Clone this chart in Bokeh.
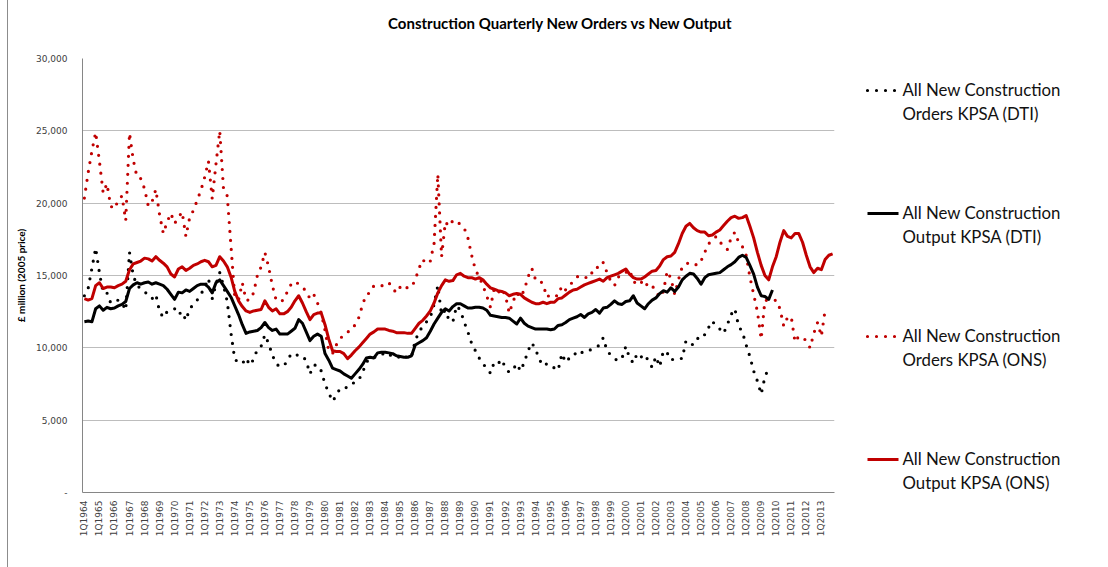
import numpy as np
from bokeh.plotting import figure
from bokeh.models import Range1d, FixedTicker, NumeralTickFormatter, Spacer
from bokeh.layouts import row, column
from bokeh.embed import file_html
from bokeh.resources import INLINE
from bokeh.core.properties import value

years = list(range(1964, 2014))
quarters = [f"{q}Q{y}" for y in years for q in range(1, 5)]

dti_orders = [
    13600, 14100, 15500, 16900, 15200, 13800, 13800, 13100, 13200, 13300, 13100, 12600,
    16600, 15000, 14300, 14100, 13900, 13600, 13400, 13700, 12500, 12100, 12500, 12600,
    12700, 12300, 12500, 11900, 12700, 13000, 13300, 13700, 14200, 14800, 13400, 14400,
    15200, 14300, 13200, 11000, 9200, 9000, 8900, 9300, 8800, 9200, 9900, 10100,
    10900, 10300, 9500, 8900, 8700, 8750, 9100, 9600, 9500, 9500, 9450, 9100,
    8200, 8800, 8800, 8400, 7500, 6900, 6300, 6700, 7200, 7250, 7250, 7400,
    7700, 7800, 8300, 9000, 9300, 9350, 9350, 9500, 9700, 9550, 9400, 9450,
    9300, 9200, 9500, 9400, 10500, 11100, 11500, 11800, 12100, 13000, 14300, 12300,
    12600, 11900, 11800, 12900, 12600, 11800, 11100, 10300, 9800, 9300, 8900, 8600,
    8250, 9000, 8900, 9200, 8600, 8300, 8500, 8900, 8400, 9000, 9800, 10350,
    9900, 9200, 8750, 8900, 8850, 8600, 8450, 9600, 9000, 9300, 9350, 9800,
    9700, 9650, 9800, 9900, 10000, 10200, 10700, 9800, 9500, 9250, 9100, 9300,
    10100, 9300, 8950, 9600, 9350, 9550, 9100, 8650, 9400, 8700, 9800, 9650,
    9150, 9250, 9300, 9250, 10500, 10300, 10200, 10600, 10950, 10900, 11400, 11850,
    11500, 11300, 11000, 11600, 12300, 12700, 11500, 11100, 10200, 9400, 8400, 7700,
    6800, 8000, 8600,
]

dti_output = [
    11800, 11850, 11800, 12700, 12900, 12600, 12800, 12700, 12750, 12900, 13000, 13200,
    14100, 14350, 14500, 14400, 14500, 14550, 14400, 14500, 14400, 14300, 14050, 13700,
    13350, 13850, 13800, 14000, 13900, 14100, 14300, 14400, 14400, 14200, 13800, 14500,
    14700, 14300, 13900, 13500, 12900, 12300, 11600, 11000, 11100, 11150, 11200, 11400,
    11750, 11400, 11200, 11300, 10950, 10950, 10950, 11150, 11350, 11950, 11700, 11100,
    10500, 10800, 10950, 10800, 9600, 9150, 8600, 8500, 8400, 8200, 8050, 7900,
    8200, 8500, 8850, 9300, 9350, 9300, 9650, 9700, 9700, 9650, 9600, 9450,
    9400, 9350, 9350, 9450, 10200, 10350, 10500, 10700, 11150, 11650, 12050, 12450,
    12700, 12550, 12850, 13050, 13050, 12900, 12750, 12750, 12800, 12800, 12750, 12600,
    12250, 12200, 12150, 12100, 12100, 12050, 11850, 11650, 12050, 11700, 11500, 11400,
    11300, 11300, 11300, 11300, 11250, 11300, 11550, 11600, 11750, 11950, 12050, 12150,
    12300, 12100, 12350, 12450, 12650, 12400, 12750, 12800, 13000, 13250, 13050, 13000,
    13200, 13250, 13600, 13100, 12900, 12700, 13050, 13300, 13450, 13750, 13950, 13850,
    14150, 13900, 14200, 14700, 14950, 15150, 15100, 14800, 14400, 14850, 15050, 15100,
    15150, 15200, 15400, 15600, 15750, 15950, 16250, 16400, 16250, 15700, 15100, 14200,
    13600, 13550, 13350, 14000,
]

ons_orders = [
    20350, 22100, 23600, 24900, 22900, 20700, 21350, 19800, 19600, 20200, 20500, 18800,
    24850, 23000, 21800, 21700, 21000, 19800, 20100, 20950, 19200, 17900, 18700, 19300,
    18600, 19000, 19400, 17700, 19000, 19500, 20200, 20900, 21800, 22900, 20300, 22700,
    25000, 21000, 20500, 17000, 13500, 13300, 14500, 13300, 13300, 13800, 15000, 15600,
    16600, 15600, 14300, 13300, 13200, 13300, 13900, 14400, 14600, 14400, 14200, 13900,
    13400, 13700, 13100, 12400, 11200, 9800, 9600, 10200, 10600, 10950, 11100, 11200,
    11600, 12100, 13000, 13700, 13800, 14300, 14300, 14300, 14300, 14500, 14100, 13800,
    14200, 14000, 14200, 14200, 14700, 15500, 16100, 15800, 16000, 17200, 22000, 16300,
    18700, 18400, 18800, 18800, 18500, 18300, 17600, 16400, 15400, 14900, 14300, 13600,
    12800, 14100, 13800, 14100, 13600, 12400, 13200, 13800, 13500, 14000, 14900, 15500,
    14700, 14700, 14400, 13500, 13700, 13600, 13600, 14300, 14000, 14300, 14600, 14900,
    15000, 14900, 14800, 15200, 15600, 15500, 15900, 15200, 14600, 14300, 14900, 15000,
    15200, 15400, 14600, 14400, 14600, 14200, 14500, 14300, 13900, 13500, 13900, 15300,
    14800, 13700, 14700, 15600, 15800, 15900, 15850, 15700, 16000, 16600, 17200, 17400,
    17700, 17300, 17100, 16800, 17600, 18000, 17300, 17000, 16400, 14900, 13700, 12500,
    10600, 13300, 13250, 13250, 13300, 12700, 11500, 12100, 12150, 10400, 10800, 10700,
    10500, 10000, 11000, 11750, 10800, 12600,
]

ons_output = [
    13400, 13300, 13400, 14300, 14500, 14100, 14200, 14200, 14150, 14300, 14400, 14600,
    15400, 15800, 15900, 16000, 16200, 16150, 16000, 16300, 16050, 15850, 15600, 15100,
    14900, 15450, 15600, 15350, 15500, 15700, 15800, 15950, 16050, 15950, 15600, 15700,
    16300, 16000, 15600, 14900, 13900, 13250, 12850, 12550, 12450, 12550, 12600, 12650,
    13250, 12800, 12550, 12700, 12350, 12350, 12500, 12800, 13250, 13600, 13100, 12500,
    11950, 12300, 12400, 12400, 11600, 10600, 9800, 9750, 9750, 9600, 9250, 9500,
    9800, 10050, 10350, 10650, 10950, 11100, 11300, 11300, 11300, 11200, 11150, 11050,
    11050, 11050, 11000, 11000, 11350, 11700, 11900, 12200, 12550, 13100, 13800, 14300,
    14700, 14600, 14650, 15050, 15150, 14950, 14850, 14850, 14750, 14850, 14700, 14400,
    14150, 14050, 13950, 13900, 13800, 13600, 13700, 13750, 13700, 13450, 13300, 13150,
    13050, 13050, 13150, 13050, 13150, 13150, 13400, 13450, 13650, 13850, 14000, 14050,
    14200, 14350, 14450, 14550, 14650, 14750, 14600, 14850, 14950, 15050, 15150, 15300,
    15450, 15100, 14850, 14750, 14750, 14900, 15100, 15300, 15350, 15650, 16100, 16300,
    16350, 16600, 17200, 17900, 18400, 18600, 18300, 18100, 18000, 18000, 17750, 17800,
    18000, 18150, 18450, 18750, 19000, 19100, 18950, 19000, 19150, 18400, 17600, 16600,
    15700, 15000, 14700, 15600, 16300, 17300, 18100, 17700, 17600, 17900, 17900, 17300,
    16400, 15600, 15200, 15500, 15400, 16100, 16400, 16500,
]

y_ticks = [0, 5000, 10000, 15000, 20000, 25000, 30000]
series_labels = [
    ["All New Construction", "Orders KPSA (DTI)"],
    ["All New Construction", "Output KPSA (DTI)"],
    ["All New Construction", "Orders KPSA (ONS)"],
    ["All New Construction", "Output KPSA (ONS)"],
]
title_text = "Construction Quarterly New Orders vs New Output"

RED = "#c00000"
BLACK = "#000000"
FONT = "Lato"
TICKFONT = "DejaVu Sans"
LEFT_PAD = 8                    # chart-area border sits at page x = 7
TITLE_H = 40
H = 519
TOP, FRAME_H = 18, 434          # frame top at page y = 58
BOTTOM = H - TOP - FRAME_H

edge = Spacer(width=LEFT_PAD, height=567,
              styles={"border-right": "1px solid #8c8c8c", "box-sizing": "border-box"})

# title strip
tf = figure(width=1100 - LEFT_PAD, height=TITLE_H, x_range=Range1d(LEFT_PAD, 1100),
            y_range=Range1d(TITLE_H, 0),
            output_backend="svg", toolbar_location=None, min_border=0,
            x_axis_type=None, y_axis_type=None)
tf.grid.visible = False
tf.outline_line_color = None
tf.border_fill_color = "white"
tf.text(x=[560], y=[22], text=[title_text], text_font=value(FONT), text_font_style="bold",
        text_font_size="15px", text_align="center", text_baseline="middle", text_color="#000000")

p = figure(width=848 - LEFT_PAD, height=H, x_range=Range1d(-0.5, 199.5), y_range=Range1d(0, 30000),
           output_backend="svg", toolbar_location=None,
           min_border_left=82 - LEFT_PAD, min_border_right=14, min_border_top=TOP,
           min_border_bottom=BOTTOM)
p.outline_line_color = None
p.background_fill_color = "white"
p.border_fill_color = "white"

p.xgrid.visible = False
p.ygrid.ticker = FixedTicker(ticks=y_ticks)
p.ygrid.grid_line_color = "#bdbdbd"
p.ygrid.grid_line_width = 1

p.yaxis.ticker = FixedTicker(ticks=y_ticks)
p.yaxis.formatter = NumeralTickFormatter(format="0,0")
p.yaxis.major_label_overrides = {0: "-"}
p.yaxis.axis_label = "£ million (2005 price)"
p.yaxis.axis_label_text_font = FONT
p.yaxis.axis_label_text_font_style = "bold"
p.yaxis.axis_label_text_font_size = "10px"
p.yaxis.axis_label_text_color = "#000000"
p.yaxis.axis_label_standoff = 6
p.xaxis.ticker = FixedTicker(ticks=list(range(0, 200, 4)))
p.xaxis.major_label_overrides = {i: quarters[i] for i in range(0, 200, 4)}
p.xaxis.major_label_orientation = np.pi / 2
for ax in (p.xaxis, p.yaxis):
    ax.axis_line_color = "#868686"
    ax.axis_line_width = 1
    ax.major_tick_line_color = None
    ax.minor_tick_line_color = None
    ax.major_tick_in = 0
    ax.major_tick_out = 0
    ax.major_label_text_font = TICKFONT
    ax.major_label_text_font_size = "9px"
    ax.major_label_text_color = "#404040"
p.yaxis.major_label_standoff = 15
p.xaxis.major_label_standoff = 8

x_dti_o = list(range(len(dti_orders)))
x_dti_out = list(range(len(dti_output)))
x_ons_o = list(range(len(ons_orders)))
x_ons_out = list(range(len(ons_output)))

p.line(x_ons_o, ons_orders, line_color=RED, line_width=3.2, line_dash="0 9", line_cap="round")
p.line(x_dti_o, dti_orders, line_color=BLACK, line_width=3.2, line_dash="0 9", line_cap="round")
p.line(x_dti_out, dti_output, line_color=BLACK, line_width=3, line_join="round")
p.line(x_ons_out, ons_output, line_color=RED, line_width=3, line_join="round")

# legend panel (frame aligned with the main plot frame; coordinates in page pixels)
lg = figure(width=252, height=H, x_range=Range1d(848, 1100), y_range=Range1d(58 + FRAME_H, 58),
            output_backend="svg", toolbar_location=None,
            min_border_left=0, min_border_right=0, min_border_top=TOP, min_border_bottom=BOTTOM,
            x_axis_type=None, y_axis_type=None)
lg.grid.visible = False
lg.outline_line_color = None
lg.border_fill_color = "white"

styles = [
    dict(line_color=BLACK, line_width=3.2, line_dash="0 9", line_cap="round"),
    dict(line_color=BLACK, line_width=3),
    dict(line_color=RED, line_width=3.2, line_dash="0 9", line_cap="round"),
    dict(line_color=RED, line_width=3),
]
for k, (lab, st) in enumerate(zip(series_labels, styles)):
    y0 = 90 + 123 * k
    lg.line([867, 898], [y0, y0], **st)
    lg.text(x=[902, 902], y=[y0 - 1, y0 + 22.7], text=lab,
            text_font=value(FONT), text_font_size="16.8px",
            text_align="left", text_baseline="middle", text_color="#111111")

layout = row(edge, column(tf, row(p, lg)))
open("out.html", "w").write(file_html(layout, INLINE))
